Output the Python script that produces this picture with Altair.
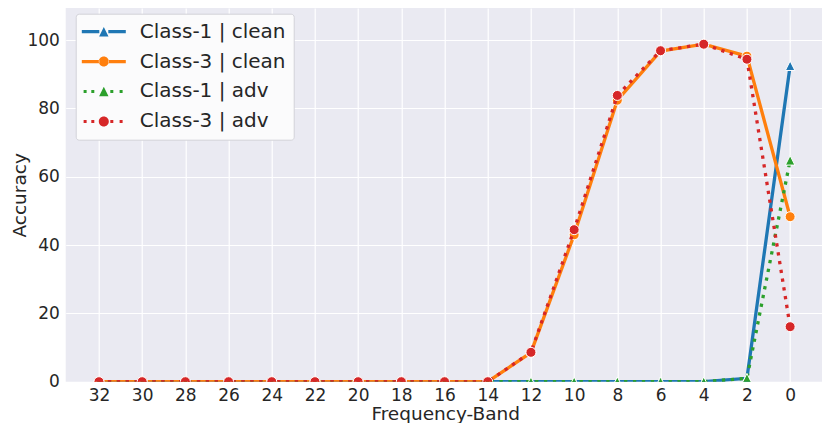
import altair as alt
import pandas as pd

# ---- data ----
bands = [32, 30, 28, 26, 24, 22, 20, 18, 16, 14, 12, 10, 8, 6, 4, 2, 0]
series_names = ["Class-1 | clean", "Class-3 | clean", "Class-1 | adv", "Class-3 | adv"]
c1_clean = [0, 0, 0, 0, 0, 0, 0, 0, 0, 0, 0, 0, 0, 0, 0, 1.0, 92.5]
c3_clean = [0, 0, 0, 0, 0, 0, 0, 0, 0, 0, 8.5, 43.0, 82.4, 96.8, 98.8, 95.3, 48.3]
c1_adv = [0, 0, 0, 0, 0, 0, 0, 0, 0, 0, 0, 0, 0, 0, 0, 1.0, 64.8]
c3_adv = [0, 0, 0, 0, 0, 0, 0, 0, 0, 0, 8.6, 44.5, 83.8, 96.9, 98.8, 94.4, 16.1]
y_ticks = [0, 20, 40, 60, 80, 100]

# ---- styles ----
series_colors = ["#1f77b4", "#ff7f0e", "#2ca02c", "#d62728"]
TRI = "M0,-1L-1,1L1,1Z"
marker_shapes = [TRI, "circle", TRI, "circle"]
marker_sizes = [90, 100, 90, 100]
dotted = [False, False, True, True]
FONT = "DejaVu Sans"
TXT = "#262626"

rows = []
for name, vals in zip(series_names, [c1_clean, c3_clean, c1_adv, c3_adv]):
    for b, v in zip(bands, vals):
        rows.append({"band": b, "acc": v, "series": name})
df = pd.DataFrame(rows)

# legend symbol paths (unit = 9 px, symbolSize 324)
U = 9.0
def rect(x0, x1, h):
    return f"M{x0/U:.3f},{-h/U:.3f}L{x1/U:.3f},{-h/U:.3f}L{x1/U:.3f},{h/U:.3f}L{x0/U:.3f},{h/U:.3f}Z"

def tri_path(r):
    r = r / U
    return f"M0,{-r:.3f}L{-r:.3f},{r:.3f}L{r:.3f},{r:.3f}Z"

def circ_path(r):
    r = r / U
    return f"M{-r:.3f},0A{r:.3f},{r:.3f} 0 1,0 {r:.3f},0A{r:.3f},{r:.3f} 0 1,0 {-r:.3f},0Z"

def legend_path(is_dotted, marker):
    m = tri_path(4.7) if marker == "tri" else circ_path(5.0)
    if is_dotted:
        parts = [rect(c - 1.5, c + 1.5, 1.5) for c in [-18.7, -11.0, 8.0, 17.3]]
    else:
        parts = [rect(-22, -4.5, 1.65), rect(4.5, 22, 1.65)]
    return "".join(parts) + m

legend_paths = [
    legend_path(False, "tri"),
    legend_path(False, "circ"),
    legend_path(True, "tri"),
    legend_path(True, "circ"),
]

W, H = 756.3, 373.7

x_enc = alt.X(
    "band:Q",
    scale=alt.Scale(domain=[-1.475, 33.54], reverse=True, nice=False, zero=False),
    axis=alt.Axis(values=bands, title="Frequency-Band", titleX=379.5, titleY=37.5,
                  titleBaseline="alphabetic", titleAlign="center",
                  labelBaseline="alphabetic", labelPadding=18.8),
)
y_enc = alt.Y(
    "acc:Q",
    scale=alt.Scale(domain=[0, 109.4], nice=False, zero=False),
    axis=alt.Axis(values=y_ticks, title="Accuracy", titleX=-40.5, titleY=H / 2,
                  titleAngle=270, titleBaseline="alphabetic", titleAlign="center",
                  labelPadding=6.4),
)

layers = []
for name, col, shp, sz, dt in zip(series_names, series_colors, marker_shapes, marker_sizes, dotted):
    base = alt.Chart(df).transform_filter(alt.datum.series == name)
    line_kwargs = dict(color=col, strokeWidth=3.3, clip=True, strokeCap="butt")
    if dt:
        line_kwargs["strokeDash"] = [3.3, 5.6]
    line = base.mark_line(**line_kwargs).encode(x=x_enc, y=y_enc)
    pts = base.mark_point(shape=shp, filled=True, color=col, fill=col, stroke="white",
                          strokeWidth=1, size=sz, opacity=1, clip=True).encode(x=x_enc, y=y_enc)
    layers += [line, pts]

legend = alt.Legend(
    orient="none", legendX=10, legendY=5.7, title=None,
    symbolSize=324, symbolStrokeWidth=0, symbolOffset=10.1, labelOffset=26,
    labelFont=FONT, labelFontSize=20, labelColor=TXT, labelLimit=400,
    padding=8, rowPadding=9.9, fillColor="#fbfbfc", strokeColor="#d2d2d8",
    cornerRadius=3, symbolOpacity=1,
)
legend_layer = alt.Chart(df).transform_filter("false").mark_point(
    filled=True, opacity=1, size=324
).encode(
    x=x_enc, y=y_enc,
    color=alt.Color("series:N", scale=alt.Scale(domain=series_names, range=series_colors), legend=legend),
    shape=alt.Shape("series:N", scale=alt.Scale(domain=series_names, range=legend_paths), legend=legend),
)

chart = alt.layer(*layers, legend_layer).properties(
    width=W, height=H,
    autosize=alt.AutoSizeParams(type="none"),
    padding={"left": 57.7, "top": 0, "right": 0, "bottom": 41},
).configure_view(
    fill="#eaeaf2", stroke=None,
).configure_axis(
    grid=True, gridColor="white", gridWidth=1.2, domain=False, ticks=False,
    labelFont=FONT, labelFontSize=17, labelColor=TXT,
    titleFont=FONT, titleFontSize=18.5, titleFontWeight="normal", titleColor=TXT,
)

chart.save("out.html", embed_options={"renderer": "svg", "actions": False})
